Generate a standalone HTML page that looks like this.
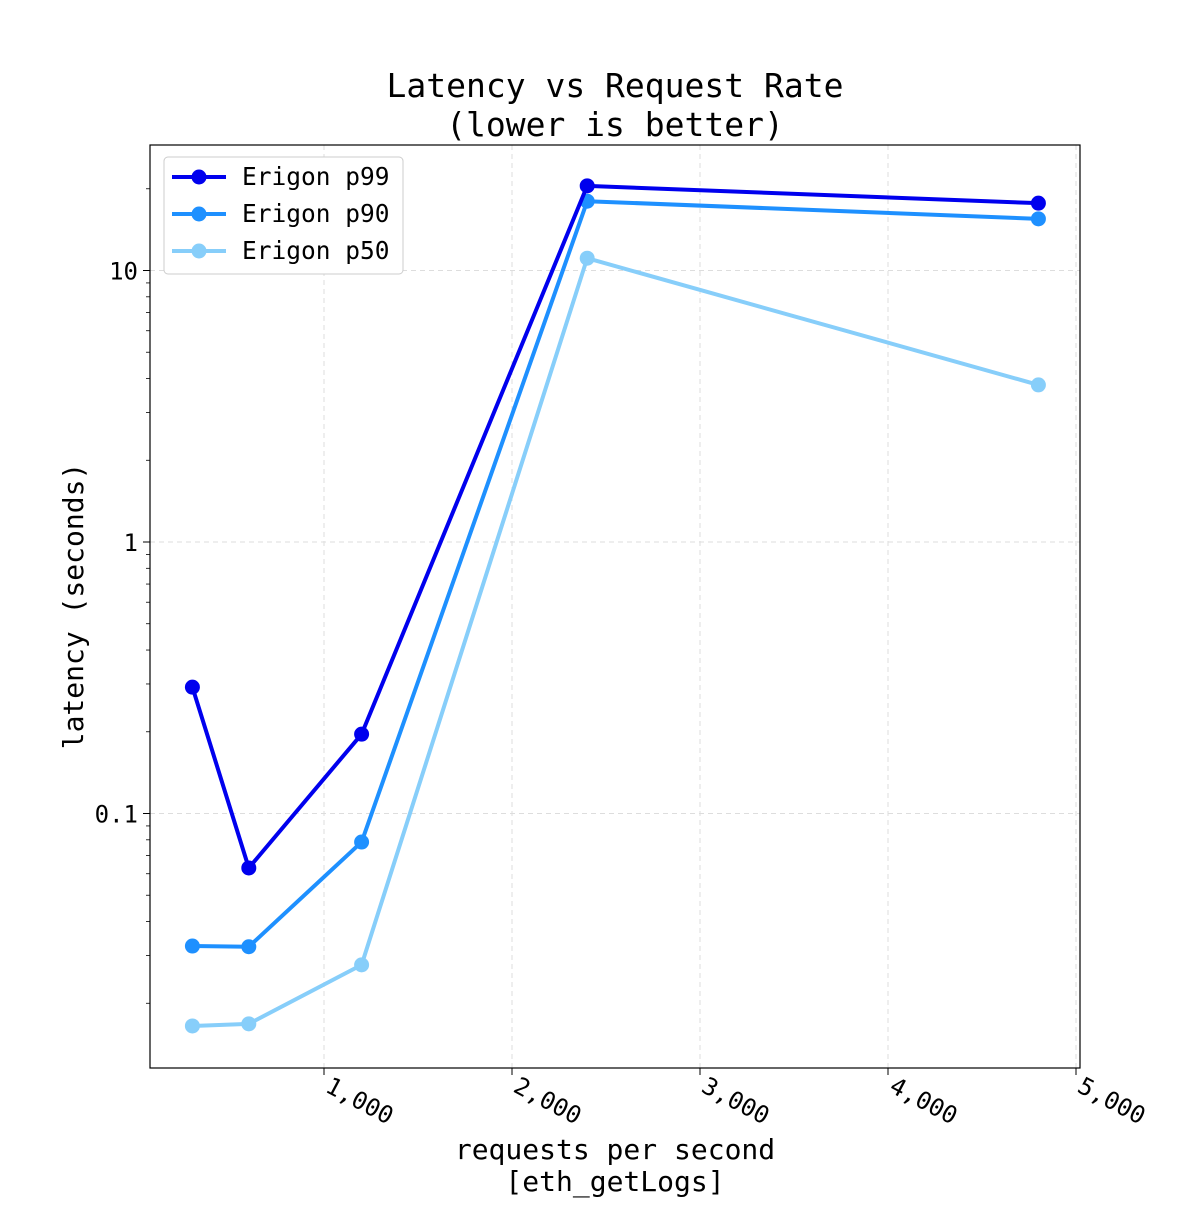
<!DOCTYPE html>
<html><head><meta charset="utf-8"><style>
body{margin:0;background:#fff}
svg text{font-family:"DejaVu Sans Mono","Liberation Mono",monospace;fill:#000}
</style></head><body>
<svg id="chart" width="1200" height="1200" xmlns="http://www.w3.org/2000/svg">
<rect width="1200" height="1200" fill="#fff"/>
<text x="615" y="97" font-size="33" text-anchor="middle">Latency vs Request Rate</text>
<text x="615" y="136" font-size="33" text-anchor="middle">(lower is better)</text>
<g id="grid"></g>
<g id="axes"></g>
<g id="series"></g>
<rect x="150" y="145" width="930" height="923" fill="none" stroke="#000" stroke-width="1.2"/>
<text x="615" y="1159" font-size="28" text-anchor="middle">requests per second</text>
<text x="615" y="1191" font-size="28" text-anchor="middle">[eth_getLogs]</text>
<text transform="translate(83,606) rotate(-90)" font-size="28" text-anchor="middle">latency (seconds)</text>
<g id="legend"></g>
</svg>
<script>
const categories = [300, 600, 1200, 2400, 4800];
const p99 = [0.292, 0.063, 0.196, 20.5, 17.7];
const p90 = [0.0325, 0.0323, 0.0785, 18.0, 15.5];
const p50 = [0.0165, 0.0168, 0.0277, 11.1, 3.79];
const xTicks = [1000, 2000, 3000, 4000, 5000];
const xTickLabels = ["1,000", "2,000", "3,000", "4,000", "5,000"];
const yTicks = [0.1, 1, 10];
const yTickLabels = ["0.1", "1", "10"];
const seriesNames = ["Erigon p99", "Erigon p90", "Erigon p50"];
const NS = "http://www.w3.org/2000/svg";
const X = v => 136 + v * 0.188;
const Y = v => 542 - Math.log10(v) * 271.5;
function mk(tag, attrs, parent){const e=document.createElementNS(NS,tag);for(const k in attrs)e.setAttribute(k,attrs[k]);parent.appendChild(e);return e;}
const grid=document.getElementById('grid'), axes=document.getElementById('axes'), ser=document.getElementById('series'), leg=document.getElementById('legend');
xTicks.forEach((t,i)=>{
  const x=X(t);
  const g=mk('line',{x1:x,x2:x,y1:145,y2:1068,stroke:'#ddd','stroke-dasharray':'5,4','stroke-width':1},grid);
  
  
  const tk=mk('line',{x1:x,x2:x,y1:1068,y2:1075,stroke:'#000'},axes);
  
  
  const tx=mk('text',{x:x,y:1091,'font-size':24,transform:`rotate(28 ${x} 1091)`},axes);
  tx.textContent=xTickLabels[i];
  
  
});
yTicks.forEach((t,i)=>{
  const y=Y(t);
  const g=mk('line',{x1:150,x2:1080,y1:y,y2:y,stroke:'#ddd','stroke-dasharray':'5,4','stroke-width':1},grid);
  
  
  const tk=mk('line',{x1:143,x2:150,y1:y,y2:y,stroke:'#000'},axes);
  
  
  const tx=mk('text',{x:138,y:y+9,'font-size':24,'text-anchor':'end'},axes);
  tx.textContent=yTickLabels[i];
  
  
});
[0.01,0.1,1,10].forEach(d=>{for(let m=2;m<=9;m++){const v=d*m;const y=Y(v);if(y<145||y>1068)continue;
  const tk=mk('line',{x1:146,x2:150,y1:y,y2:y,stroke:'#000','stroke-width':0.8},axes);
  
  }});
const colors=['#0000ee','#1e90ff','#87cefa'];
const data=[p99,p90,p50];
[2,1,0].forEach(s=>{
  const pts=categories.map((c,i)=>X(c)+','+Y(data[s][i])).join(' ');
  const pl=mk('polyline',{points:pts,fill:'none',stroke:colors[s],'stroke-width':4,'stroke-linejoin':'round'},ser);
  
  
  categories.forEach((c,i)=>{
    const p=mk('circle',{cx:X(c),cy:Y(data[s][i]),r:7.5,fill:colors[s]},ser);
    
    
  });
});
const box=mk('rect',{x:164,y:157,width:239,height:117,rx:4,fill:'#fff',stroke:'#ccc'},leg);


seriesNames.forEach((n,i)=>{
  const y=177+i*37;
  const l=mk('line',{x1:172,x2:226,y1:y,y2:y,stroke:colors[i],'stroke-width':4},leg);
  
  
  const c=mk('circle',{cx:199,cy:y,r:7.5,fill:colors[i]},leg);
  
  
  const t=mk('text',{x:242,y:y+8,'font-size':24.5},leg);
  t.textContent=n;
  
  
});
</script>
</body></html>
